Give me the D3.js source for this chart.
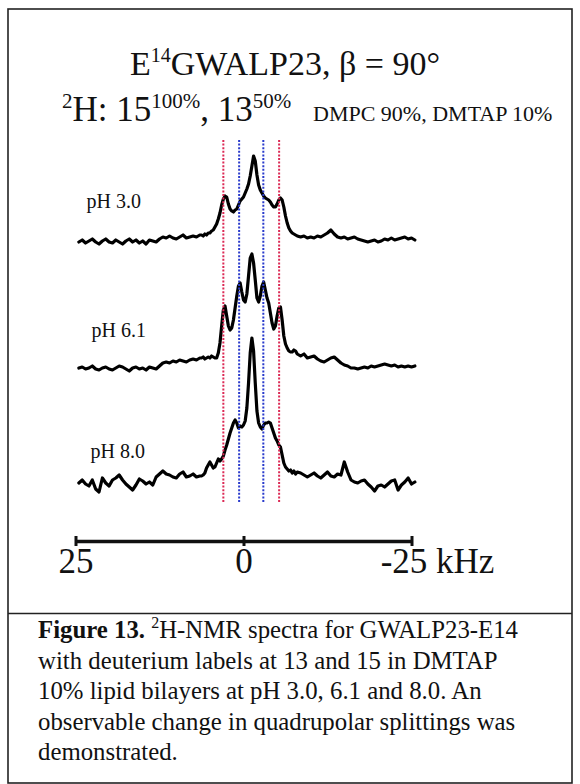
<!DOCTYPE html>
<html>
<head>
<meta charset="utf-8">
<script src="https://cdn.jsdelivr.net/npm/d3@7"></script>
<style>
  body { margin: 0; background: #fff; }
  svg { display: block; }
  text { font-family: "Liberation Serif", "Times New Roman", serif; fill: #111; }
</style>
</head>
<body>
<svg id="chart" width="580" height="784"></svg>
<script>
// ---------------- DATA ----------------
// Frequency sampling points (kHz)
const freqKHz = [
  24.5,24,23.5,23,22.5,22,21.5,21,20.5,20,19.5,19,18.5,18,17.5,17,16.5,16,15.5,15,14.5,14,13.5,13,12.5,12,11.5,11,10.5,10,9.5,9,8.5,8,7.5,7,6.5,
  6.25,6,5.75,5.5,5.25,5,4.75,4.5,4.25,4,3.75,3.5,3.25,3,2.75,2.5,2.25,2,1.75,1.5,1.25,1,0.75,0.5,0.25,0,-0.25,-0.5,-0.75,-1,-1.25,-1.5,-1.75,-2,-2.25,-2.5,-2.75,-3,-3.25,-3.5,-3.75,-4,-4.25,-4.5,-4.75,-5,-5.25,-5.5,-5.75,-6,-6.25,-6.5,-6.75,-7,-7.25,-7.5,-7.75,-8,
  -8.5,-9,-9.5,-10,-10.5,-11,-11.5,-12,-12.5,-13,-13.5,-14,-14.5,-15,-15.5,-16,-16.5,-17,-17.5,-18,-18.5,-19,-19.5,-20,-20.5,-21,-21.5,-22,-22.5,-23,-23.5,-24,-24.5,-25,-25.5
];
// Relative intensities
const intensityPH30 = [
  1,3,0,2,4,1,-1,2,4,1,0,3,1,-1,2,4,1,3,0,2,-1,3,2,1,4,6,5,7,5,4,6,8,5,6,7,6,8,
  8,7,9,8,10,10,12,13,16,19,24,30,38,44,47,46,39,34,32,31,33,34,38,42,44,46,50,54,59,67,77,87,82,68,58,53,50,47,45,44,43,41,38,36,36,39,43,45,43,36,27,20,15,12,10,9,8,7,
  6,7,5,6,5,7,6,8,10,13,9,6,5,6,4,5,6,4,3,2,1,2,3,1,2,4,3,5,3,4,5,6,4,5,3
];
const intensityPH61 = [
  0,1,-1,0,2,-1,-2,0,1,-1,-2,0,2,1,-1,-3,0,1,-1,0,-2,1,0,-1,2,5,6,5,7,6,8,7,6,8,9,8,10,
  10,11,9,10,11,10,12,11,10,10,15,25,42,58,62,52,42,38,40,48,60,72,82,85,76,68,66,74,92,110,114,105,88,70,66,72,82,86,78,70,65,55,45,39,42,52,60,61,48,32,24,20,17,16,16,18,17,14,
  12,14,10,11,12,9,7,6,8,10,11,8,5,3,2,0,0,-1,0,1,0,2,1,2,3,4,3,2,3,1,2,1,2,1,2
];
const intensityPH80 = [
  0,3,-1,-3,3,-6,-9,5,0,-3,3,5,8,3,-1,-4,-7,-2,4,2,-1,1,-2,6,9,12,9,8,6,5,9,11,6,7,9,6,7,
  7,8,10,15,18,21,18,15,16,20,24,22,24,27,33,38,44,50,55,60,63,60,55,57,56,58,62,75,100,130,145,132,100,72,60,56,54,58,60,60,61,60,55,50,45,42,38,36,28,20,16,14,12,13,10,12,9,11,
  10,8,6,8,10,7,5,8,11,7,6,9,8,21,11,3,1,0,2,3,-1,-4,-8,-3,-2,-4,-1,2,3,-7,-2,1,5,-1,1
];
const spectrumLabels = ["pH 3.0", "pH 6.1", "pH 8.0"];
const redSplitting = [3.0, -5.3];    // kHz (label 15)
const blueSplitting = [0.65, -2.95]; // kHz (label 13)
const axisTicks = [25, 0, -25];
const axisTickLabels = ["25", "0", "-25"];
const axisUnit = "kHz";

// ---------------- LAYOUT ----------------
const svg = d3.select("#chart");
const serif = '"Liberation Serif", "Times New Roman", serif';

const x = d3.scaleLinear().domain([25, -25]).range([75.5, 411.5]);
const rowBaselines = [243, 368, 483];
const labelPos = [[86.5, 208], [91.5, 337], [90.5, 458]];

// frame
svg.append("rect").attr("x", 8).attr("y", 9).attr("width", 564).attr("height", 774)
  .attr("fill", "none").attr("stroke", "#222").attr("stroke-width", 1.6);
svg.append("line").attr("x1", 8).attr("x2", 572).attr("y1", 613.5).attr("y2", 613.5)
  .attr("stroke", "#222").attr("stroke-width", 1.6);

// title
const title = svg.append("text").attr("x", 285).attr("y", 75).attr("text-anchor", "middle")
  .attr("font-size", 34);
title.append("tspan").text("E");
title.append("tspan").attr("font-size", 20).attr("dy", -13).text("14");
title.append("tspan").attr("dy", 13).text("GWALP23, β = 90°");

// subtitle
const subY = 121;
const sub = svg.append("text").attr("x", 62).attr("y", subY).attr("font-size", 35);
sub.append("tspan").attr("font-size", 21).attr("dy", -13).text("2");
sub.append("tspan").attr("dy", 13).text("H: 15");
sub.append("tspan").attr("font-size", 21).attr("dy", -13).text("100%");
sub.append("tspan").attr("dy", 13).text(", 13");
sub.append("tspan").attr("font-size", 21).attr("dy", -13).text("50%");
svg.append("text").attr("x", 313).attr("y", subY).attr("font-size", 22)
  .text("DMPC 90%, DMTAP 10%");

// spectra
const series = [intensityPH30, intensityPH61, intensityPH80];
series.forEach((vals, i) => {
  const y = d3.scaleLinear().domain([0, 100]).range([rowBaselines[i], rowBaselines[i] - 100]);
  const line = d3.line().x((d, j) => x(freqKHz[j])).y(d => y(d)).curve(d3.curveLinear);
  svg.append("path").datum(vals).attr("d", line)
    .attr("fill", "none").attr("stroke", "#000").attr("stroke-width", 3.2)
    .attr("stroke-linejoin", "round").attr("stroke-linecap", "round");
  svg.append("text").attr("x", labelPos[i][0]).attr("y", labelPos[i][1])
    .attr("font-size", 20).text(spectrumLabels[i]);
});

// dotted splitting guides (drawn over the spectra)
const guides = redSplitting.map(v => ({v, c: "#dc2a55"}))
  .concat(blueSplitting.map(v => ({v, c: "#2a3bcc"})));
svg.selectAll("line.guide").data(guides).join("line").attr("class", "guide")
  .attr("x1", d => x(d.v)).attr("x2", d => x(d.v))
  .attr("y1", 140).attr("y2", 502)
  .attr("stroke", d => d.c).attr("stroke-width", 2).attr("stroke-dasharray", "2,1.6");

// axis (scale bar)
const axisY = 541;
const axisG = svg.append("g").attr("transform", `translate(0,${axisY})`)
  .call(d3.axisBottom(x).tickValues(axisTicks)
    .tickFormat((d, i) => axisTickLabels[i]).tickSizeInner(5).tickSizeOuter(0));
axisG.select(".domain").attr("stroke", "#111").attr("stroke-width", 3.5);
axisG.selectAll(".tick line").attr("y1", -5).attr("y2", 5)
  .attr("stroke", "#111").attr("stroke-width", 3);
axisG.selectAll(".tick text").attr("font-size", 35).attr("font-family", serif)
  .attr("fill", "#111").attr("y", 32).attr("dy", 0)
  .attr("dx", (d, i) => i === 2 ? -8 : 0);
svg.append("text").attr("x", 436).attr("y", axisY + 32).attr("font-size", 35).text(axisUnit);

// caption
const capX = 38, capY0 = 638, capLH = 30.5, capFS = 24.8;
const cap1 = svg.append("text").attr("x", capX).attr("y", capY0).attr("font-size", capFS);
cap1.append("tspan").attr("font-weight", "bold").text("Figure 13.");
cap1.append("tspan").text(" ");
cap1.append("tspan").attr("font-size", 16).attr("dy", -10).text("2");
cap1.append("tspan").attr("dy", 10).text("H-NMR spectra for GWALP23-E14");
const capLines = [
  "with deuterium labels at 13 and 15 in DMTAP",
  "10% lipid bilayers at pH 3.0, 6.1 and 8.0. An",
  "observable change in quadrupolar splittings was",
  "demonstrated."
];
capLines.forEach((t, i) => {
  svg.append("text").attr("x", capX).attr("y", capY0 + capLH * (i + 1))
    .attr("font-size", capFS).text(t);
});
</script>
</body>
</html>
